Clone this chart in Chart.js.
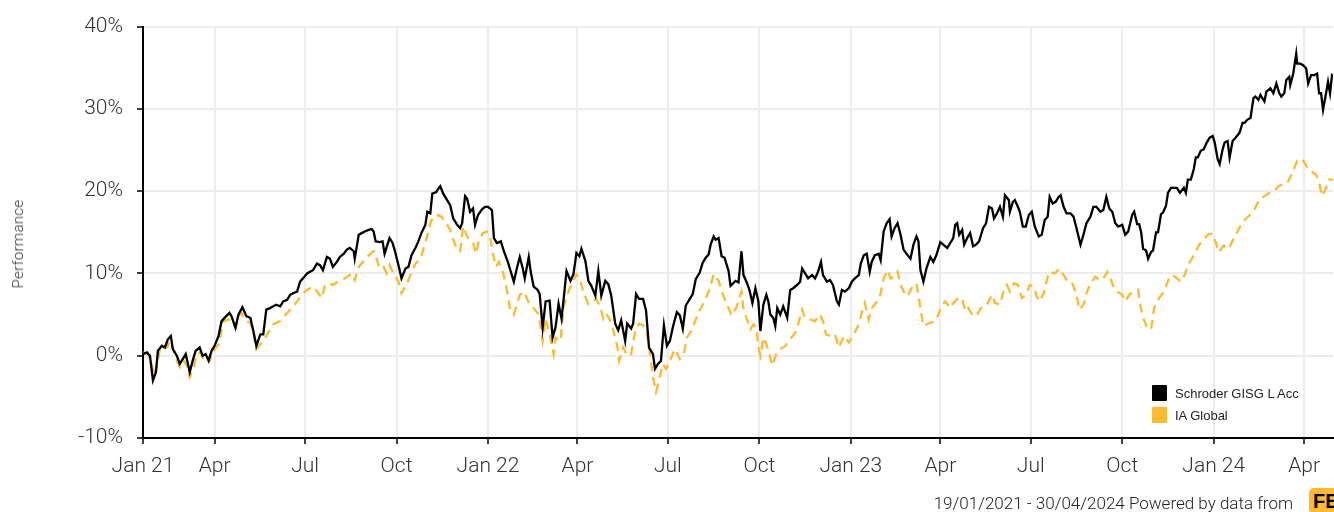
<!DOCTYPE html>
<html>
<head>
<meta charset="utf-8">
<title>Schroder GISG L Acc vs IA Global</title>
<script src="https://cdn.jsdelivr.net/npm/chart.js@4.4.1/dist/chart.umd.min.js"></script>
<style>
  html, body { margin: 0; padding: 0; background: #fff; }
  #wrap { position: relative; width: 1334px; height: 512px; overflow: hidden; }
  #perfLabel {
    position: absolute; left: 18px; top: 244px;
    transform: translate(-50%, -50%) rotate(-90deg);
    font: 300 15px Roboto, sans-serif; color: #333; white-space: nowrap; letter-spacing: 0.3px;
  }
  #legend { position: absolute; left: 1152px; top: 382px; font: 13px "Liberation Sans", Arial, sans-serif; color: #222; }
  .item { display: flex; align-items: center; height: 22px; }
  .swatch { width: 15px; height: 16px; margin-right: 8px; border-radius: 1px; }
  #footer {
    position: absolute; right: 41px; top: 493px; line-height: 20px;
    font: 300 17px Roboto, sans-serif; color: #222; white-space: nowrap;
  }
  #logo {
    position: absolute; left: 1309px; top: 488px; width: 40px; height: 26px;
    background: #FDB930; border-radius: 5px;
    font: bold 20px "Liberation Sans", Arial, sans-serif; color: #000;
    line-height: 26px; padding-left: 4px; box-sizing: border-box;
  }
</style>
</head>
<body>
<div id="wrap">
  <canvas id="perfChart" width="1334" height="512"></canvas>
  <div id="perfLabel">Performance</div>
  <div id="legend">
    <div class="item"><span class="swatch" style="background:#000"></span>Schroder GISG L Acc</div>
    <div class="item"><span class="swatch" style="background:#FDB930"></span>IA Global</div>
  </div>
  <div id="footer">19/01/2021 - 30/04/2024 Powered by data from</div>
  <div id="logo">FE</div>
</div>
<script>
// x values are days since 19/01/2021
const tickDays = [0, 72, 163, 255, 347, 437, 528, 620, 712, 802, 893, 985, 1077, 1168];
const tickLabels = ['Jan 21', 'Apr', 'Jul', 'Oct', 'Jan 22', 'Apr', 'Jul', 'Oct', 'Jan 23', 'Apr', 'Jul', 'Oct', 'Jan 24', 'Apr'];
const yTicks = [-10, 0, 10, 20, 30, 40];

// Schroder GISG L Acc (%)
const fundDays = [
    0, 4, 7, 10, 13, 15, 19, 22, 25, 28, 30, 34, 37, 41, 43, 47, 50, 53, 57, 60,
    63, 66, 69, 72, 76, 79, 82, 87, 89, 93, 96, 100, 104, 108, 111, 114, 118, 121, 124, 128,
    131, 134, 138, 141, 145, 148, 151, 155, 158, 161, 165, 168, 171, 175, 178, 181, 185, 188, 191, 195,
    198,
    202, 205, 208, 212, 213, 217, 220, 223, 227, 230, 232, 234, 238, 241, 243, 248, 251, 253, 257, 260,
    264, 267, 270, 274, 277, 280, 284, 286, 289, 291, 295, 297, 299, 302, 305, 309, 312, 316, 319, 321,
    324, 326, 329, 332, 334, 337, 341, 344, 347, 351, 353, 356, 360, 363, 367, 370, 373, 376, 379, 382,
    384, 388, 390, 393, 397, 399,
    402, 405, 409, 412, 415, 418, 421, 424, 426, 430, 433, 436, 439, 441, 445, 448, 451, 455, 458, 461,
    465, 468, 471, 475, 478, 481, 485, 487, 491, 493, 496, 499, 503, 506, 509, 513, 515, 518, 521, 524,
    527, 530, 533, 537, 540, 543, 546, 550, 553, 556, 560, 563, 566, 569, 571, 574, 576, 579, 582, 585,
    589, 591, 596, 599, 602,
    604, 607, 610, 613, 616, 619, 621, 624, 627, 629, 631, 634, 636, 638, 641, 644, 648, 651, 654, 658,
    661, 663, 666, 669, 673, 676, 679, 682, 684, 688, 691, 694, 698, 700, 703, 706, 710, 713, 716, 720,
    722, 725, 728, 731, 733, 736, 740, 742, 745, 748, 751, 753, 756, 759, 762, 765, 768, 772, 775, 778,
    780, 782, 785, 788, 792, 795, 798,
    802, 805, 809, 812, 815, 817, 819, 821, 824, 826, 829, 832, 835, 838, 841, 845, 848, 851, 854, 856,
    859, 862, 865, 867, 871, 872, 875, 877, 880, 882, 885, 888, 891, 894, 897, 901, 904, 907, 910, 912,
    915, 918, 921, 923, 926, 929, 933, 936, 939, 943, 946, 949, 953, 956, 959, 963, 966, 969, 972, 975,
    978, 981, 985, 988, 991, 995, 997,
    1000, 1002, 1004, 1006, 1009, 1011, 1014, 1016, 1019, 1021, 1024, 1026, 1029, 1031, 1034, 1037, 1040, 1043, 1047, 1049,
    1051, 1054, 1057, 1059, 1061, 1064, 1067, 1070, 1073, 1076, 1078, 1081, 1083, 1086, 1088, 1091, 1093, 1096, 1099, 1103,
    1106, 1108, 1111, 1114, 1117, 1119, 1122, 1124, 1128, 1130, 1134, 1137, 1140, 1143, 1145, 1148, 1150, 1153, 1154, 1157,
    1160, 1161, 1164, 1167, 1170, 1172, 1175, 1178, 1181, 1183, 1185, 1187, 1190, 1192, 1194, 1196, 1197
];
const fundValues = [
    0.2, 0.4, 0, -3.0, -2.0, 0.6, 1.2, 1.0, 2.0, 2.4, 0.8, 0, -1.0, -0.2, 0.2, -2.0, -0.6, 0.6, 1.0, 0,
    0.2, -0.6, 0.6, 1.2, 2.4, 4.2, 4.6, 5.2, 4.8, 3.4, 5.0, 5.9, 4.8, 4.6, 3.0, 1.2, 2.6, 2.6, 5.6, 5.8,
    6.0, 6.2, 6.0, 6.6, 6.8, 7.4, 7.6, 7.8, 9.0, 9.4, 10.0, 10.2, 10.4, 11.2, 11.0, 10.4, 12.0, 11.8, 10.8, 11.4,
    12.0,
    12.4, 12.9, 13.1, 12.7, 11.8, 14.7, 14.9, 15.1, 15.3, 15.4, 15.1, 13.9, 13.8, 13.9, 12.4, 14.3, 13.7, 12.9, 11.0, 9.4,
    10.6, 10.8, 12.2, 13.1, 13.9, 14.9, 15.9, 17.5, 17.3, 19.7, 19.9, 20.3, 20.6, 19.7, 19.1, 18.3, 16.7, 15.9, 15.5, 16.1,
    19.4, 19.1, 17.5, 17.9, 15.9, 17.1, 17.8, 18.1, 18.1, 17.7, 14.3, 13.7, 13.9, 12.7, 11.4, 10.2, 9.0, 10.6, 12.0, 10.6,
    9.4, 12.0, 10.2, 8.4, 8.0, 7.5,
    3.4, 6.6, 6.7, 2.2, 3.5, 6.3, 4.5, 7.9, 10.3, 9.1, 9.9, 12.5, 12.1, 13.0, 11.5, 9.1, 8.5, 7.3, 10.3, 7.3,
    9.1, 8.7, 7.3, 3.9, 3.1, 4.3, 1.8, 3.9, 3.3, 3.9, 7.5, 6.9, 6.9, 5.5, 1.0, 0.2, -1.6, -1.0, -0.6, 3.7,
    1.2, 1.8, 3.5, 5.3, 4.9, 3.3, 6.1, 6.9, 7.5, 9.3, 10.1, 11.3, 11.9, 12.3, 13.5, 14.5, 14.1, 14.3, 12.1, 11.9,
    10.3, 8.5, 9.1, 8.9, 12.7,
    9.8, 9.0, 8.0, 6.4, 8.2, 6.6, 3.0, 6.2, 7.4, 6.6, 5.0, 4.6, 3.6, 5.8, 5.0, 6.0, 4.6, 8.0, 8.2, 8.6,
    9.0, 10.6, 10.0, 9.4, 9.8, 9.4, 10.2, 11.4, 9.8, 9.0, 9.2, 8.6, 6.6, 6.2, 8.0, 7.8, 8.2, 9.0, 9.4, 9.8,
    11.2, 12.2, 12.4, 10.2, 11.4, 12.2, 12.4, 11.6, 15.1, 16.1, 16.6, 14.5, 15.5, 16.1, 14.7, 12.9, 12.4, 11.8, 13.5, 14.5,
    13.9, 10.4, 9.0, 10.6, 12.0, 11.4, 12.2,
    13.8, 13.5, 13.1, 13.7, 14.3, 15.9, 16.1, 14.7, 15.3, 13.5, 14.3, 14.9, 13.3, 13.5, 13.9, 15.5, 16.1, 18.1, 17.9, 16.7,
    17.3, 18.1, 16.9, 19.5, 18.9, 17.5, 18.7, 18.9, 18.1, 17.5, 15.7, 15.7, 17.1, 17.5, 15.7, 14.5, 14.7, 16.5, 16.9, 19.3,
    18.5, 18.7, 19.3, 19.5, 18.1, 17.3, 17.3, 16.9, 15.5, 13.5, 14.7, 16.1, 16.9, 18.1, 18.1, 17.5, 17.7, 19.3, 17.9, 17.5,
    16.1, 15.7, 15.9, 14.7, 15.1, 17.1, 17.5,
    16.0, 16.0, 15.0, 13.0, 12.8, 11.8, 12.6, 12.8, 15.0, 15.0, 17.2, 17.4, 18.2, 19.8, 20.4, 20.4, 20.4, 19.8, 20.4, 19.8,
    21.4, 21.4, 22.7, 24.1, 24.1, 24.9, 25.1, 25.9, 26.5, 26.7, 25.9, 23.9, 23.3, 25.1, 25.9, 26.1, 24.1, 26.1, 26.5, 27.1,
    28.3, 28.3, 28.7, 28.9, 31.3, 31.5, 31.1, 31.7, 30.9, 32.1, 32.5, 31.9, 33.1, 31.9, 31.5, 31.9, 33.5, 33.9, 32.9, 34.3,
    36.7, 35.5, 35.5, 35.3, 34.9, 33.1, 34.1, 34.1, 34.3, 31.9, 31.9, 29.9, 31.9, 33.3, 31.9, 34.1, 34.0
];

// IA Global sector average (%)
const sectorDays = [
    0, 5, 9, 11, 14, 17, 20, 24, 27, 31, 34, 37, 41, 44, 47, 51, 54, 57, 61, 64,
    67, 71, 76, 81, 86, 89, 93, 96, 99, 104, 108, 111, 114, 118, 121, 126, 131, 138, 145, 151,
    155, 161, 165, 168, 171, 175, 180, 183, 186, 191, 196,
    203, 210, 213, 217, 220, 227, 232, 235, 238, 242, 245, 248, 252, 257, 260, 265, 269, 274, 279, 284,
    287, 290, 294, 297, 300, 305, 309, 312, 316, 319, 322, 326, 329, 332, 335, 338, 342, 346, 349, 352,
    355, 358, 362, 365, 369, 373, 376, 379, 383, 386, 389, 393, 398, 402,
    405, 409, 413, 415, 420, 423, 427, 431, 436, 440, 443, 448, 451, 456, 460, 463, 466, 470, 473, 477,
    479, 483, 487, 491, 495, 499, 503, 507, 510, 513, 516, 519, 523, 526, 530, 535, 540, 544, 547, 552,
    555, 560, 565, 570, 574, 579, 582, 585, 590, 592, 597, 602,
    604, 607, 611, 614, 617, 619, 621, 624, 627, 630, 633, 637, 641, 646, 651, 656, 659, 663, 666, 671,
    676, 681, 684, 687, 691, 696, 700, 705, 710, 715, 720, 723, 726, 730, 733, 736, 741, 745, 749, 752,
    756, 759, 762, 766, 769, 773, 778, 782, 785, 788, 792, 797, 800, 804,
    807, 812, 815, 820, 824, 827, 830, 835, 839, 844, 849, 854, 857, 862, 866, 869, 872, 876, 880, 884,
    888, 892, 896, 899, 902, 906, 910, 912, 917, 922, 926, 929, 934, 938, 942, 946, 949, 953, 958, 962,
    966, 970, 973, 977, 980, 985, 988, 992, 996, 1001,
    1003, 1006, 1010, 1014, 1017, 1022, 1027, 1032, 1036, 1040, 1044, 1047, 1052, 1057, 1062, 1067, 1072, 1076, 1079, 1082,
    1087, 1092, 1097, 1104, 1109, 1114, 1118, 1123, 1128, 1133, 1138, 1142, 1146, 1151, 1156, 1161, 1166, 1171, 1175, 1180,
    1183, 1186, 1190, 1193, 1197
];
const sectorValues = [
    0.4, 0.2, -1.2, -2.4, -1.2, 0.8, 1.2, 1.0, 1.8, 0.6, -0.6, -1.4, -0.6, -1.2, -2.6, -1.4, 0.2, 0.4, -0.4, 0,
    -0.6, 0.6, 1.4, 4.2, 4.4, 4.2, 3.4, 4.8, 5.2, 4.2, 4.0, 2.8, 0.8, 1.4, 1.8, 2.8, 3.8, 4.2, 5.2, 6.0,
    6.6, 7.6, 8.0, 8.2, 8.4, 7.8, 7.0, 8.6, 8.8, 8.6, 9.0,
    9.4, 10.0, 9.2, 10.8, 11.2, 12.2, 12.7, 11.8, 10.6, 10.8, 10.0, 11.0, 10.0, 9.0, 7.6, 8.6, 9.8, 11.2, 11.8, 13.7,
    15.1, 16.5, 16.5, 17.1, 16.9, 16.1, 15.3, 14.1, 12.9, 12.7, 15.7, 14.5, 13.9, 13.7, 12.4, 14.1, 14.9, 15.1, 14.5, 12.4,
    10.8, 11.4, 10.2, 8.6, 5.8, 5.0, 6.2, 7.4, 7.8, 7.0, 6.2, 5.8, 5.0, 1.8,
    4.5, 2.7, 0.2, 2.2, 1.8, 5.9, 7.5, 8.7, 9.9, 9.1, 7.7, 6.3, 6.5, 6.9, 5.9, 4.5, 5.1, 4.3, 3.1, 1.2,
    -0.6, 1.0, 0, 0.2, 2.9, 3.9, 3.7, 2.7, 0.2, -2.6, -4.4, -3.0, -1.0, -1.6, -0.6, 0.8, -0.4, 0.2, 2.2, 3.1,
    4.1, 5.5, 6.7, 8.1, 9.9, 9.1, 7.9, 6.9, 5.5, 4.9, 5.9, 7.8,
    5.6, 4.6, 3.2, 3.8, 3.4, 1.0, 0, 2.2, 1.4, 0.2, -1.2, 0.2, 0.8, 1.2, 2.0, 2.8, 3.8, 5.6, 4.6, 4.4,
    4.2, 5.0, 4.2, 2.6, 2.4, 2.6, 1.0, 2.4, 1.6, 2.6, 3.8, 5.2, 6.4, 4.4, 5.8, 6.2, 7.0, 9.4, 10.4, 9.4,
    9.6, 10.2, 8.6, 7.6, 7.2, 8.2, 8.8, 5.8, 3.6, 3.8, 4.0, 4.2, 5.0, 6.2,
    6.6, 5.8, 6.4, 7.0, 7.0, 5.4, 5.8, 4.8, 5.0, 6.0, 6.2, 7.4, 6.4, 6.2, 8.0, 8.6, 7.8, 8.8, 8.6, 7.0,
    7.4, 8.6, 8.4, 7.2, 6.6, 7.6, 9.6, 10.2, 10.0, 10.6, 9.8, 9.2, 9.0, 7.8, 5.6, 6.2, 7.6, 8.8, 9.6, 9.2,
    9.4, 10.2, 9.4, 8.2, 7.8, 7.4, 6.6, 7.4, 7.8, 8.0,
    6.2, 4.6, 3.4, 3.2, 5.8, 7.0, 7.8, 9.4, 9.8, 9.4, 9.0, 9.6, 11.2, 12.2, 13.4, 14.2, 14.8, 14.8, 13.8, 12.6,
    13.4, 13.0, 14.2, 15.8, 16.6, 17.2, 17.8, 19.0, 19.4, 19.8, 20.0, 20.6, 20.8, 21.0, 22.2, 23.7, 23.9, 22.9, 22.4, 22.0,
    21.0, 19.4, 20.4, 21.4, 21.4
];

const fundPoints = fundDays.map((d, i) => ({ x: d, y: fundValues[i] }));
const sectorPoints = sectorDays.map((d, i) => ({ x: d, y: sectorValues[i] }));

const tickFont = { family: 'Roboto', size: 21, weight: '300' };
const gridStyle = { color: '#ececec', lineWidth: 2, tickColor: '#000', tickLength: 6, tickWidth: 1.5 };

const ctx = document.getElementById('perfChart').getContext('2d');
const perfChart = new Chart(ctx, {
    type: 'line',
    data: {
        datasets: [{
            label: 'Schroder GISG L Acc',
            data: fundPoints,
            borderColor: '#000000',
            borderWidth: 2.3,
            pointRadius: 0,
            tension: 0,
            fill: false
        }, {
            label: 'IA Global',
            data: sectorPoints,
            borderColor: '#FDB930',
            borderWidth: 2.3,
            borderDash: [9, 6],
            pointRadius: 0,
            tension: 0,
            fill: false
        }]
    },
    options: {
        responsive: false,
        animation: false,
        layout: { padding: { top: 23, right: 1, bottom: 34, left: 0 } },
        plugins: {
            legend: { display: false },
            tooltip: { enabled: false }
        },
        scales: {
            x: {
                type: 'linear',
                min: 0,
                max: 1197,
                afterBuildTicks: function(scale) {
                    scale.ticks = tickDays.map(v => ({ value: v }));
                },
                afterFit: function(scale) {
                    scale.height = 40;
                },
                ticks: {
                    autoSkip: false,
                    maxRotation: 0,
                    padding: 10,
                    color: '#333',
                    font: tickFont,
                    callback: function(value, index) {
                        return tickLabels[index];
                    }
                },
                grid: gridStyle,
                border: { color: '#000', width: 2 }
            },
            y: {
                min: -10,
                max: 40,
                afterBuildTicks: function(scale) {
                    scale.ticks = yTicks.map(v => ({ value: v }));
                },
                afterFit: function(scale) {
                    scale.width = 143;
                },
                ticks: {
                    padding: 14,
                    color: '#333',
                    font: tickFont,
                    callback: function(value) {
                        return value + '%';
                    }
                },
                grid: gridStyle,
                border: { color: '#000', width: 2 }
            }
        }
    }
});
</script>
</body>
</html>
